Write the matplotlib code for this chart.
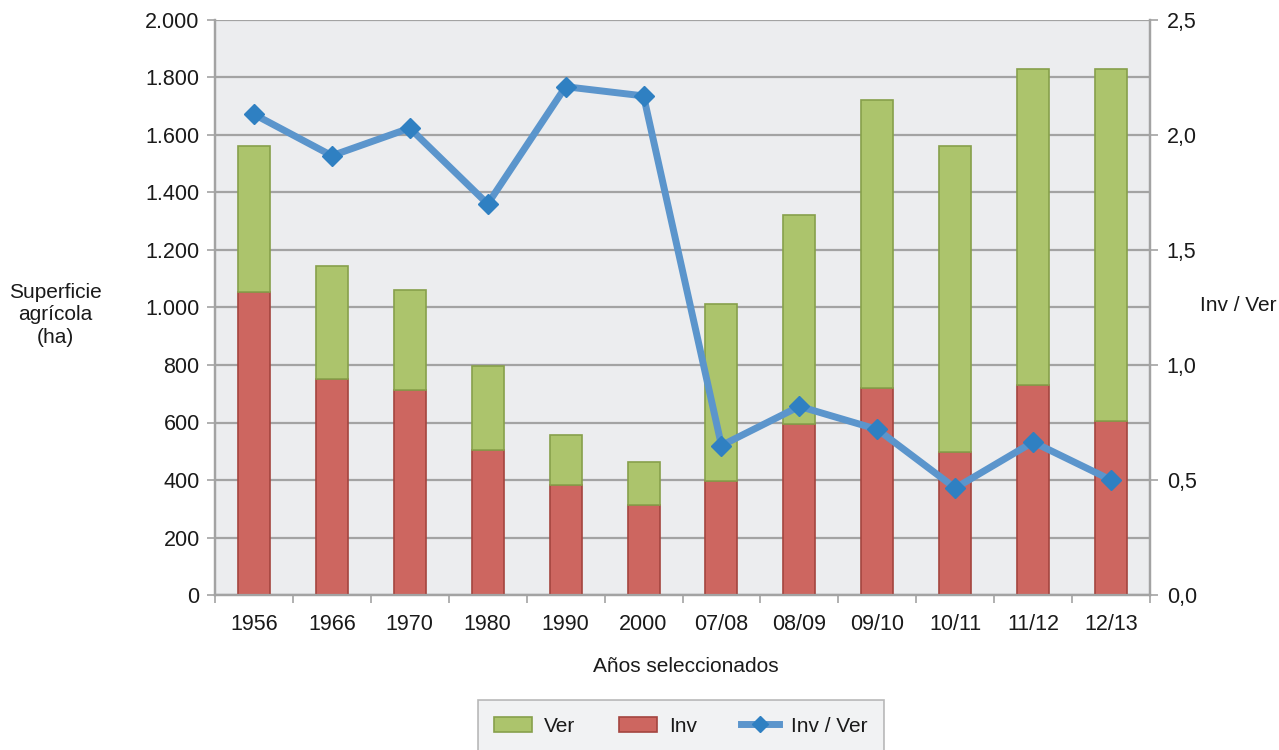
import matplotlib
matplotlib.use("Agg")
import matplotlib.pyplot as plt
from matplotlib import font_manager
import numpy as np

names = {f.name for f in font_manager.fontManager.ttflist}
narrow = "Liberation Sans Narrow" if "Liberation Sans Narrow" in names else "Liberation Sans"
plt.rcParams['font.family'] = [narrow, 'DejaVu Sans']

categories = ["1956", "1966", "1970", "1980", "1990", "2000",
              "07/08", "08/09", "09/10", "10/11", "11/12", "12/13"]
inv = [1054, 751, 713, 504, 383, 313, 397, 595, 720, 497, 730, 605]
ver = [508, 393, 348, 293, 174, 150, 615, 727, 1002, 1065, 1100, 1225]
ratio = [2.09, 1.91, 2.03, 1.70, 2.21, 2.17, 0.65, 0.82, 0.72, 0.465, 0.665, 0.50]
left_ticks = [0, 200, 400, 600, 800, 1000, 1200, 1400, 1600, 1800, 2000]
left_labels = ["0", "200", "400", "600", "800", "1.000", "1.200", "1.400", "1.600", "1.800", "2.000"]
right_ticks = [0, 0.5, 1.0, 1.5, 2.0, 2.5]
right_labels = ["0,0", "0,5", "1,0", "1,5", "2,0", "2,5"]

green, green_e = "#ACC46C", "#87A04B"
red, red_e = "#CD6660", "#A4453F"
blue, blue_m = "#5B95CC", "#2F80C2"
grid_c = "#A3A3A3"
bg = "#ECEDEF"
txt = "#1a1a1a"

fig = plt.figure(figsize=(12.79, 7.5), dpi=100)
ax = fig.add_axes([215/1279, 155/750, 935/1279, 575/750])
ax.set_facecolor(bg)
x = np.arange(len(categories))
w = 0.41
ax.bar(x, inv, w, color=red, edgecolor=red_e, linewidth=1.2, label="Inv", zorder=3)
ax.bar(x, ver, w, bottom=inv, color=green, edgecolor=green_e, linewidth=1.2, label="Ver", zorder=3)
ax.set_ylim(0, 2000)
ax.set_xlim(-0.5, len(categories) - 0.5)
ax.set_yticks(left_ticks)
ax.set_yticklabels(left_labels)
ax.yaxis.grid(True, color=grid_c, linewidth=1.6, zorder=0)
ax.set_axisbelow(True)
ax.set_xticks(x)
ax.set_xticklabels(categories)
ax.set_xticks(np.arange(-0.5, len(categories), 1.0), minor=True)
ax.tick_params(axis='x', which='major', length=0, pad=14, labelsize=15.5, colors=txt)
ax.tick_params(axis='x', which='minor', length=6, width=1.2, color=grid_c, direction='out')
ax.tick_params(axis='y', length=6, width=1.2, color=grid_c, labelsize=15.5, labelcolor=txt, pad=5)
for s in ['left', 'bottom', 'right']:
    ax.spines[s].set_color(grid_c)
    ax.spines[s].set_linewidth(1.6)
ax.spines['top'].set_visible(False)

ax2 = ax.twinx()
ax2.plot(x, ratio, color=blue, linewidth=5, marker='D', markersize=10,
         markerfacecolor=blue_m, markeredgecolor=blue_m, label="Inv / Ver", zorder=5)
ax2.set_ylim(0, 2.5)
ax2.set_yticks(right_ticks)
ax2.set_yticklabels(right_labels)
ax2.tick_params(axis='y', length=6, width=1.2, color=grid_c, labelsize=15.5, labelcolor=txt, pad=6)
for s in ['left', 'bottom', 'right']:
    ax2.spines[s].set_color(grid_c)
    ax2.spines[s].set_linewidth(1.6)
ax2.spines['top'].set_visible(False)

fig.text(686/1279, 1 - 667/750, "Años seleccionados", ha='center', va='center', fontsize=15, color=txt)
fig.text(55/1279, 1 - 315/750, "Superficie\nagrícola\n(ha)", ha='center', va='center',
         fontsize=15, color=txt, linespacing=1.25)
fig.text(1238/1279, 1 - 305/750, "Inv / Ver", ha='center', va='center', fontsize=15, color=txt)

h1, l1 = ax.get_legend_handles_labels()
h2, l2 = ax2.get_legend_handles_labels()
handles = [h1[1], h1[0], h2[0]]
labels = [l1[1], l1[0], l2[0]]
leg = fig.legend(handles, labels, loc='upper center', bbox_to_anchor=(681/1279, 1 - 700/750),
                 ncol=3, frameon=True, fontsize=15, handlelength=1.8, handleheight=0.7,
                 columnspacing=2.1, borderpad=0.8, handletextpad=0.6, fancybox=False,
                 borderaxespad=0, markerscale=0.8)
leg.get_frame().set_facecolor("#EEEFF1")
leg.get_frame().set_edgecolor("#A8A8A8")
leg.get_frame().set_linewidth(1.2)
for t in leg.get_texts():
    t.set_color(txt)

fig.savefig("out.png", dpi=100)
